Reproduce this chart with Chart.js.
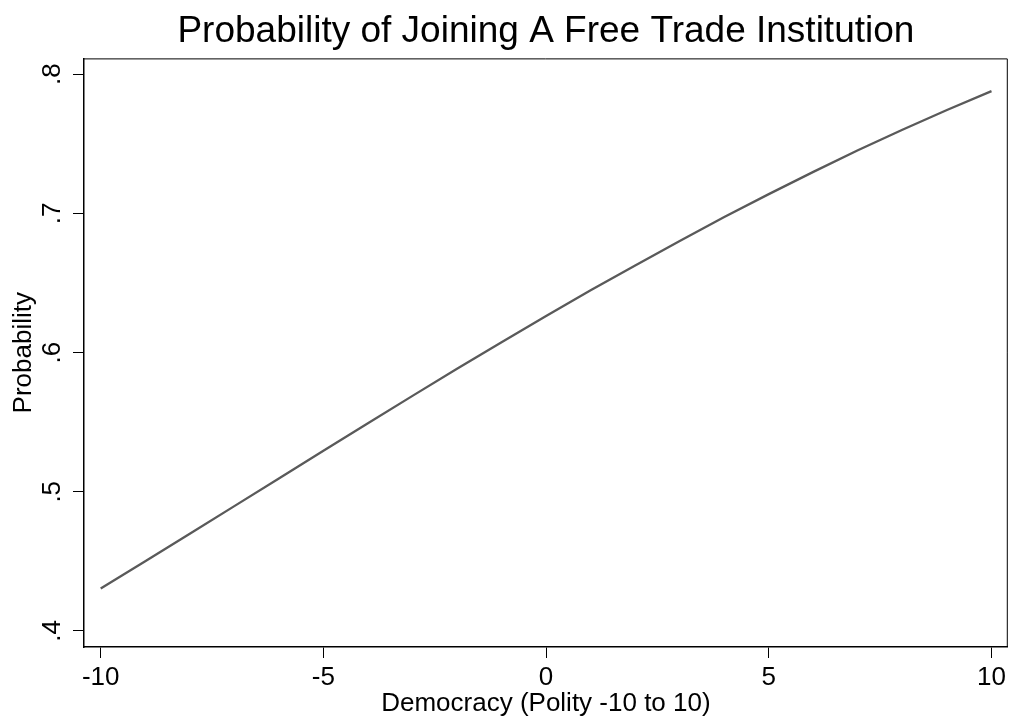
<!DOCTYPE html>
<html>
<head>
<meta charset="utf-8">
<script src="https://cdn.jsdelivr.net/npm/chart.js@4"></script>
<style>
  html, body { margin: 0; padding: 0; background: #fff; }
  #wrap { width: 1010px; height: 719px; }
</style>
</head>
<body>
<div id="wrap"><canvas id="myChart"></canvas></div>
<script>
// democracy score (polity) and predicted probability
let polity = [-10, -9, -8, -7, -6, -5, -4, -3, -2, -1, 0, 1, 2, 3, 4, 5, 6, 7, 8, 9, 10];
let probability = [0.4305, 0.4501, 0.4698, 0.4897, 0.5096, 0.5295, 0.5492, 0.5689, 0.5883, 0.6074,
                   0.6262, 0.6447, 0.6626, 0.6802, 0.6973, 0.7138, 0.7298, 0.7453, 0.7601, 0.7742, 0.7878];

let xTicks = [-10, -5, 0, 5, 10];
let xTickLabels = ["-10", "-5", "0", "5", "10"];
let yTicks = [0.4, 0.5, 0.6, 0.7, 0.8];
let yTickLabels = [".4", ".5", ".6", ".7", ".8"];

Chart.defaults.font.family = "'Liberation Sans', Arial, sans-serif";
Chart.defaults.color = '#000';

// thin outline on the top and right of the plot region
const frame = {
  id: 'frame',
  afterDraw(chart) {
    const a = chart.chartArea, c = chart.ctx;
    c.save();
    c.strokeStyle = '#000';
    c.lineWidth = 1;
    c.beginPath();
    c.moveTo(a.left, a.top + 0.5);
    c.lineTo(a.right - 0.5, a.top + 0.5);
    c.lineTo(a.right - 0.5, a.bottom);
    c.stroke();
    c.restore();
  }
};

let ctx = document.getElementById('myChart').getContext('2d');

const myChart = new Chart(ctx, {
  type: 'scatter',
  data: {
    datasets: [{
      data: polity.map((x, i) => ({x: x, y: probability[i]})),
      showLine: true,
      borderColor: '#5a5a5a',
      borderWidth: 2.3,
      pointRadius: 0,
      tension: 0
    }]
  },
  options: {
    responsive: true,
    maintainAspectRatio: false,
    animation: false,
    layout: { padding: { left: 0, right: 2, top: 0, bottom: 0 } },
    plugins: {
      legend: { display: false },
      tooltip: { enabled: false },
      title: {
        display: true,
        fullSize: false,
        text: 'Probability of Joining A Free Trade Institution',
        font: { size: 37, weight: 'normal' },
        color: '#000',
        padding: { top: 10, bottom: 4 }
      }
    },
    scales: {
      x: {
        type: 'linear',
        min: -10.375,
        max: 10.366,
        afterBuildTicks: (s) => { s.ticks = xTicks.map(v => ({value: v})); },
        afterFit: (s) => { s.height = 72; },
        ticks: {
          callback: (v, i) => xTickLabels[i],
          font: { size: 26 },
          padding: 4,
          maxRotation: 0
        },
        grid: { drawOnChartArea: false, drawTicks: true, tickLength: 11, color: '#000', tickColor: '#000' },
        border: { display: true, color: '#000', width: 1.5 },
        title: {
          display: true,
          text: 'Democracy (Polity -10 to 10)',
          font: { size: 26 },
          padding: { top: 0, bottom: 0 }
        }
      },
      y: {
        type: 'linear',
        min: 0.3885,
        max: 0.8113,
        afterBuildTicks: (s) => { s.ticks = yTicks.map(v => ({value: v})); },
        afterFit: (s) => { s.width = 84; },
        ticks: {
          callback: (v, i) => yTickLabels[i],
          font: { size: 26 },
          minRotation: 90,
          maxRotation: 90,
          crossAlign: 'center',
          padding: 9
        },
        grid: { drawOnChartArea: false, drawTicks: true, tickLength: 11, color: '#000', tickColor: '#000' },
        border: { display: true, color: '#000', width: 1.5 },
        title: {
          display: true,
          text: 'Probability',
          font: { size: 26 },
          padding: { top: 8, bottom: 0 }
        }
      }
    }
  },
  plugins: [frame]
});
</script>
</body>
</html>
